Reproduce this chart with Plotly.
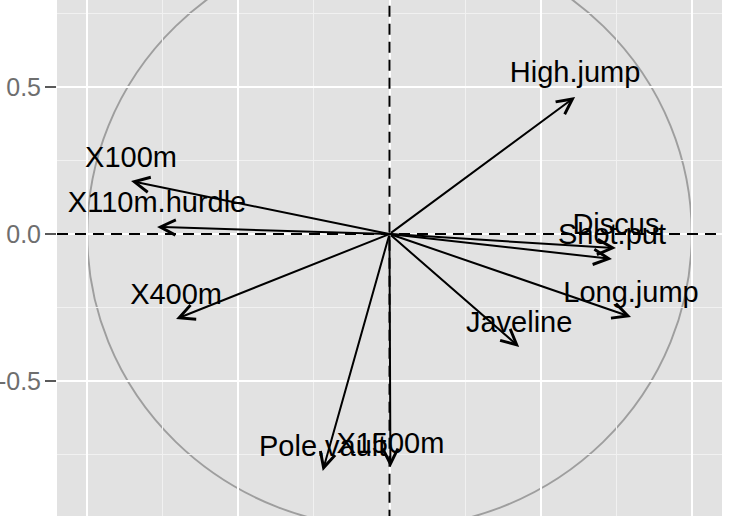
import plotly.graph_objects as go

# ---- data ----
variables = ["X100m", "Long.jump", "Shot.put", "High.jump", "X400m",
             "X110m.hurdle", "Discus", "Pole.vault", "Javeline", "X1500m"]
pc1 = [-0.855, 0.799, 0.736, 0.614, -0.706, -0.769, 0.749, -0.221, 0.429, 0.003]
pc2 = [0.180, -0.282, -0.085, 0.466, -0.289, 0.024, -0.048, -0.806, -0.384, -0.793]

y_tick_vals = [-0.5, 0.0, 0.5]
y_tick_text = ["-0.5", "0.0", "0.5"]

# ---- style ----
X_RANGE = [-1.1, 1.1]
Y_RANGE = [-0.9592, 0.7959]
LABEL_DY = 0.074
FONT = "Liberation Sans, Arial, Helvetica, sans-serif"

fig = go.Figure()

# reference dashed axes through the origin
fig.add_trace(go.Scatter(x=X_RANGE, y=[0, 0], mode="lines",
                         line=dict(color="black", width=2, dash="11px,7px"),
                         hoverinfo="skip", showlegend=False))
fig.add_trace(go.Scatter(x=[0, 0], y=[Y_RANGE[0] - 0.2, Y_RANGE[1] + 0.2], mode="lines",
                         line=dict(color="black", width=2, dash="11px,7px"),
                         hoverinfo="skip", showlegend=False))

# variable labels
fig.add_trace(go.Scatter(x=pc1, y=[v + LABEL_DY for v in pc2], mode="text",
                         text=variables, textposition="middle center",
                         textfont=dict(family=FONT, size=29, color="black"),
                         hoverinfo="skip", showlegend=False, cliponaxis=False))

# unit circle
fig.add_shape(type="circle", xref="x", yref="y", x0=-1, y0=-1, x1=1, y1=1,
              line=dict(color="#9E9E9E", width=1.9), layer="below")

# arrows from origin
for name, x, y in zip(variables, pc1, pc2):
    fig.add_annotation(x=x, y=y, ax=0, ay=0, xref="x", yref="y",
                       axref="x", ayref="y", text="", showarrow=True,
                       arrowhead=5, arrowsize=1.5, arrowwidth=2,
                       arrowcolor="black", standoff=0, startstandoff=0)

fig.update_layout(
    width=749, height=516,
    margin=dict(l=57, r=27, t=0, b=0, autoexpand=False),
    paper_bgcolor="white",
    plot_bgcolor="#E2E2E2",
    showlegend=False,
    font=dict(family=FONT),
)
fig.update_xaxes(range=X_RANGE, tick0=0, dtick=0.5, showgrid=True,
                 gridcolor="white", gridwidth=2, zeroline=False,
                 showticklabels=False, ticks="",
                 minor=dict(tick0=0.25, dtick=0.5, showgrid=True,
                            gridcolor="#F1F1F1", gridwidth=1))
fig.update_yaxes(range=Y_RANGE, tickmode="array", tickvals=y_tick_vals,
                 ticktext=y_tick_text, showgrid=True, gridcolor="white",
                 gridwidth=2, zeroline=False, ticks="outside", ticklen=11,
                 tickwidth=2, tickcolor="#5A5A5A",
                 tickfont=dict(family=FONT, size=25, color="#6E6E6E"),
                 ticklabelstandoff=-1,
                 minor=dict(tickmode="array", tickvals=[-0.75, -0.25, 0.25, 0.75],
                            showgrid=True, gridcolor="#F1F1F1", gridwidth=1,
                            ticks=""))

fig.write_html(
    "out.html",
    config={"displayModeBar": False},
    post_script="document.body.style.margin='0';document.body.style.overflow='hidden';",
)
